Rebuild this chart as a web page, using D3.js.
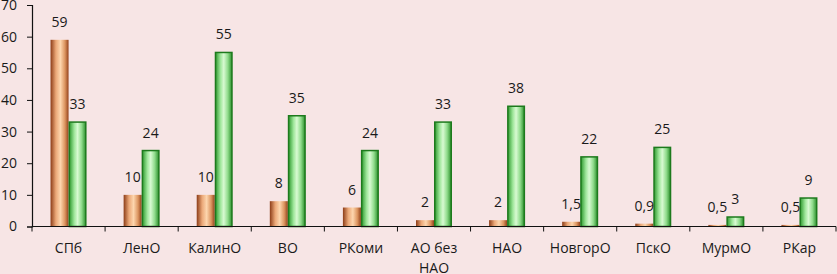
<!DOCTYPE html>
<html>
<head>
<meta charset="utf-8">
<script src="https://cdn.jsdelivr.net/npm/d3@7"></script>
<style>
  html, body { margin: 0; padding: 0; background: #f7e5e5; }
  svg { display: block; font-family: "Open Sans", sans-serif; }
</style>
</head>
<body>
<svg id="chart" width="837" height="274"></svg>
<script>
// data
const categories = ["СПб", "ЛенО", "КалинО", "ВО", "РКоми", "АО без НАО", "НАО", "НовгорО", "ПскО", "МурмО", "РКар"];
const seriesA = [59, 10, 10, 8, 6, 2, 2, 1.5, 0.9, 0.5, 0.5];
const seriesB = [33, 24, 55, 35, 24, 33, 38, 22, 25, 3, 9];
const yTicks = [0, 10, 20, 30, 40, 50, 60, 70];

const svg = d3.select("#chart"),
  W = 837, H = 274,
  fs = 14,
  margins = {top: 5, right: 1, bottom: 47.5, left: 32};

svg.append("rect").attr("width", W).attr("height", H).attr("fill", "#f7e5e5");

const x = d3.scaleBand()
  .domain(categories)
  .range([margins.left, W - margins.right]);

const sub = d3.scaleBand()
  .domain(["a", "b"])
  .range([0, x.bandwidth()])
  .paddingOuter(1.03);

const y = d3.scaleLinear()
  .domain([0, 70])
  .range([H - margins.bottom, margins.top]);

const fmt = v => String(v).replace(".", ",");

// gradients
const defs = svg.append("defs");
const gA = defs.append("linearGradient").attr("id", "gA").attr("x1", 0).attr("x2", 1);
[[0, "#8c3c17"], [0.3, "#eba878"], [0.55, "#fdd6ae"], [0.8, "#dc9560"], [1, "#93431c"]]
  .forEach(s => gA.append("stop").attr("offset", s[0]).attr("stop-color", s[1]));
const gB = defs.append("linearGradient").attr("id", "gB").attr("x1", 0).attr("x2", 1);
[[0, "#2f9a2f"], [0.3, "#9ee69a"], [0.5, "#d8fad2"], [0.75, "#8fdb8b"], [1, "#2c8f2c"]]
  .forEach(s => gB.append("stop").attr("offset", s[0]).attr("stop-color", s[1]));

const rows = categories.map((c, i) => ({c, a: seriesA[i], b: seriesB[i]}));

// bars
const grp = svg.append("g").selectAll("g")
  .data(rows)
  .enter().append("g")
  .attr("transform", d => "translate(" + x(d.c) + ",0)");

grp.append("rect")
  .attr("x", sub("a"))
  .attr("width", sub.bandwidth())
  .attr("y", d => y(d.a))
  .attr("height", d => y(0) - y(d.a))
  .attr("fill", "url(#gA)");

grp.append("rect")
  .attr("x", sub("b") + 0.75)
  .attr("width", sub.bandwidth() - 1.5)
  .attr("y", d => y(d.b))
  .attr("height", d => y(0) - y(d.b))
  .attr("fill", "url(#gB)")
  .attr("stroke", "#1d7a1d")
  .attr("stroke-width", 1.5);

// value labels
grp.append("text")
  .attr("x", sub("a") + sub.bandwidth() / 2)
  .attr("y", d => y(d.a) - 13)
  .attr("text-anchor", "middle")
  .attr("font-size", fs)
  .attr("fill", "#1a1a1a")
  .text(d => fmt(d.a));

grp.append("text")
  .attr("x", sub("b") + sub.bandwidth() / 2)
  .attr("y", d => y(d.b) - 13)
  .attr("text-anchor", "middle")
  .attr("font-size", fs)
  .attr("fill", "#1a1a1a")
  .text(d => fmt(d.b));

// y axis
const yAxis = svg.append("g")
  .attr("transform", "translate(" + margins.left + ",0)")
  .call(d3.axisLeft(y).tickValues(yTicks).tickSize(5).tickPadding(10));
yAxis.select(".domain").attr("stroke", "#111").attr("stroke-width", 1.2);
yAxis.selectAll("line").attr("stroke", "#111");
yAxis.selectAll("text")
  .attr("font-size", fs)
  .attr("font-family", "Open Sans, sans-serif")
  .attr("fill", "#1a1a1a");

// x axis: line, ticks at band edges, labels centered
const xAxis = svg.append("g");
xAxis.append("line")
  .attr("x1", margins.left).attr("x2", W - margins.right)
  .attr("y1", y(0)).attr("y2", y(0))
  .attr("stroke", "#111").attr("stroke-width", 1.2);

xAxis.selectAll(".tk")
  .data(categories.map(c => x(c)).concat([x.range()[1]]))
  .enter().append("line")
  .attr("x1", d => d).attr("x2", d => d)
  .attr("y1", y(0)).attr("y2", y(0) + 5)
  .attr("stroke", "#111");

const labels = xAxis.selectAll(".lbl")
  .data(categories)
  .enter().append("text")
  .attr("text-anchor", "middle")
  .attr("font-size", fs)
  .attr("fill", "#1a1a1a")
  .attr("x", d => x(d) + x.bandwidth() / 2)
  .attr("y", y(0) + 26);

// wrap labels that are wider than the band
labels.each(function(d) {
  const t = d3.select(this);
  t.text(d);
  if (this.getComputedTextLength() <= x.bandwidth() - 4) return;
  t.text(null);
  const words = d.split(" ");
  let line = [], lines = [];
  words.forEach(w => {
    const test = line.concat([w]).join(" ");
    t.text(test);
    if (this.getComputedTextLength() > x.bandwidth() - 4 && line.length) {
      lines.push(line.join(" "));
      line = [w];
    } else {
      line.push(w);
    }
  });
  lines.push(line.join(" "));
  t.text(null);
  lines.forEach((l, i) => {
    t.append("tspan")
      .attr("x", x(d) + x.bandwidth() / 2)
      .attr("dy", i ? 20 : 0)
      .text(l);
  });
});
</script>
</body>
</html>
